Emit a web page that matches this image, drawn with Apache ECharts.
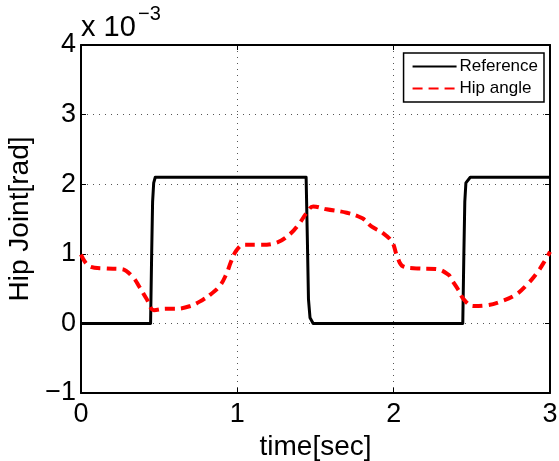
<!DOCTYPE html>
<html>
<head>
<meta charset="utf-8">
<script src="https://cdn.jsdelivr.net/npm/echarts@6/dist/echarts.min.js"></script>
<style>
  html, body { margin: 0; padding: 0; background: #fff; }
  #chart { width: 559px; height: 461px; }
</style>
</head>
<body>
<div id="chart"></div>
<script>
// Values are in units of 1e-3 rad (axis multiplier shown in the corner).
const refTime = [0, 0.445, 0.452, 0.458, 0.465, 0.475, 1.44, 1.448, 1.455, 1.465, 1.485, 2.442, 2.449, 2.455, 2.462, 2.49, 3.0];
const refValue = [0, 0, 1.0, 1.75, 2.02, 2.1, 2.1, 1.2, 0.35, 0.08, 0, 0, 1.0, 1.75, 2.02, 2.1, 2.1];

const hipTime = [0, 0.055, 0.15, 0.26, 0.33, 0.375, 0.42, 0.467, 0.54, 0.60, 0.70, 0.78, 0.825, 0.885, 0.93, 0.96, 0.995, 1.04, 1.145, 1.25, 1.34, 1.395, 1.444, 1.485, 1.57, 1.70, 1.80, 1.86, 1.93, 1.99, 2.02, 2.06, 2.155, 2.275, 2.35, 2.37, 2.414, 2.45, 2.51, 2.595, 2.68, 2.78, 2.85, 2.915, 2.97, 3.0];
const hipValue = [0.99, 0.82, 0.79, 0.78, 0.67, 0.52, 0.35, 0.19, 0.21, 0.21, 0.25, 0.34, 0.41, 0.53, 0.71, 0.89, 1.05, 1.13, 1.13, 1.16, 1.29, 1.43, 1.59, 1.68, 1.64, 1.59, 1.51, 1.39, 1.30, 1.17, 0.98, 0.82, 0.79, 0.78, 0.70, 0.63, 0.48, 0.34, 0.25, 0.26, 0.31, 0.41, 0.55, 0.72, 0.91, 1.03];

const xTicks = [0, 1, 2, 3];
const yTicks = [-1, 0, 1, 2, 3, 4];

const seriesNames = ['Reference', 'Hip angle'];

const FONT = 'Liberation Sans, Arial, Helvetica, sans-serif';

function pairs(xs, ys) { return xs.map((x, i) => [x, ys[i]]); }

const gridLine = { show: true, lineStyle: { color: '#555', width: 1, type: [1, 5] } };
const tick = { show: true, inside: true, length: 5, lineStyle: { color: '#000', width: 1 } };
const axisLine = { show: true, onZero: false, lineStyle: { color: '#000', width: 2 } };

const chart = echarts.init(document.getElementById('chart'), null, { renderer: 'canvas' });
chart.setOption({
  animation: false,
  backgroundColor: '#fff',
  grid: { left: 81, right: 9, top: 45, bottom: 68, containLabel: false, outerBoundsMode: 'none' },
  xAxis: [
    {
      type: 'value', min: xTicks[0], max: xTicks[xTicks.length - 1], interval: 1,
      position: 'bottom',
      name: 'time[sec]', nameLocation: 'middle', nameGap: 36,
      nameTextStyle: { fontFamily: FONT, fontSize: 28, color: '#000' },
      axisLine: axisLine, axisTick: tick, splitLine: gridLine,
      axisLabel: { fontFamily: FONT, fontSize: 27, color: '#000', margin: 8 }
    },
    {
      type: 'value', min: xTicks[0], max: xTicks[xTicks.length - 1], interval: 1,
      position: 'top',
      axisLine: axisLine, axisTick: tick, splitLine: { show: false },
      axisLabel: { show: false }
    }
  ],
  yAxis: [
    {
      type: 'value', min: yTicks[0], max: yTicks[yTicks.length - 1], interval: 1,
      position: 'left',
      name: 'Hip Joint[rad]', nameLocation: 'middle', nameGap: 44, nameRotate: 90,
      nameTextStyle: { fontFamily: FONT, fontSize: 28, color: '#000' },
      axisLine: axisLine, axisTick: tick, splitLine: gridLine,
      axisLabel: {
        fontFamily: FONT, fontSize: 27, color: '#000', margin: 5,
        formatter: v => (v < 0 ? '\u2212' + Math.abs(v) : String(v))
      }
    },
    {
      type: 'value', min: yTicks[0], max: yTicks[yTicks.length - 1], interval: 1,
      position: 'right',
      axisLine: axisLine, axisTick: tick, splitLine: { show: false },
      axisLabel: { show: false }
    }
  ],
  legend: {
    orient: 'vertical', right: 15, top: 53,
    data: seriesNames,
    backgroundColor: '#fff', borderColor: '#000', borderWidth: 1.5, borderRadius: 0,
    padding: [5, 6, 5, 8], itemGap: 5, itemWidth: 44, itemHeight: 16,
    itemStyle: { opacity: 0 },
    textStyle: { fontFamily: FONT, fontSize: 17, color: '#000', padding: [0, 0, 0, -2] }
  },
  graphic: [
    { type: 'text', left: 81, top: 13, style: { text: 'x 10', fontFamily: FONT, fontSize: 29, fill: '#000' } },
    { type: 'text', left: 138, top: 4, style: { text: '\u22123', fontFamily: FONT, fontSize: 20, fill: '#000' } }
  ],
  series: [
    {
      name: seriesNames[0], type: 'line', showSymbol: false, symbol: 'none',
      data: pairs(refTime, refValue), smooth: false,
      lineStyle: { color: '#000', width: 3, join: 'round' },
      itemStyle: { color: '#000' }, z: 3
    },
    {
      name: seriesNames[1], type: 'line', showSymbol: false, symbol: 'none',
      data: pairs(hipTime, hipValue), smooth: 0.4,
      lineStyle: { color: '#ff0000', width: 4, type: [10, 6], cap: 'butt' },
      itemStyle: { color: '#ff0000' }, z: 4
    }
  ]
});
</script>
</body>
</html>
